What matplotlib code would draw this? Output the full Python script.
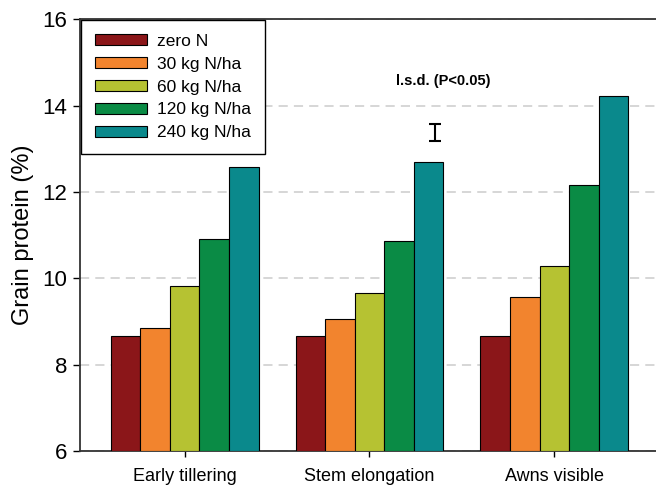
import numpy as np
import matplotlib.pyplot as plt

plt.rcParams['font.family'] = ['Liberation Sans', 'DejaVu Sans']

stages = ["Early tillering", "Stem elongation", "Awns visible"]
rates = ["zero N", "30 kg N/ha", "60 kg N/ha", "120 kg N/ha", "240 kg N/ha"]
protein = [
    [8.67, 8.67, 8.67],
    [8.85, 9.07, 9.56],
    [9.83, 9.66, 10.29],
    [10.91, 10.87, 12.16],
    [12.58, 12.70, 14.22],
]
colors = ["#8b1619", "#f2842e", "#b6c232", "#0a8b45", "#0a898c"]
lsd = 0.39

fig = plt.figure(figsize=(6.56, 4.93), dpi=100)
ax = fig.add_axes([0.122, 0.085, 0.878, 0.876])

x = np.arange(len(stages))
w = 0.16
for i, (lab, vals) in enumerate(zip(rates, protein)):
    ax.bar(x + (i - 2) * w, np.array(vals) - 6, w, bottom=6, color=colors[i],
           edgecolor="black", linewidth=0.8, label=lab, zorder=3)

ax.set_ylim(6, 16)
ax.set_xlim(-0.566, 2.55)
ax.set_yticks([6, 8, 10, 12, 14, 16])
ax.set_xticks(x)
ax.set_xticklabels(stages, fontsize=13)
ax.tick_params(axis="y", labelsize=16, direction="out", length=5, width=1, pad=4)
ax.tick_params(axis="x", direction="out", length=4, width=1, pad=8)
ax.set_ylabel("Grain protein (%)", fontsize=17, labelpad=6)
ax.grid(axis="y", linestyle=(0, (6, 4)), color="#cccccc", linewidth=1.1, zorder=0)

for s in ["left", "bottom", "top"]:
    ax.spines[s].set_color("#333333")
    ax.spines[s].set_linewidth(1.3)
ax.spines["right"].set_visible(False)

# l.s.d. bar
ax.errorbar(1.357, 13.38, yerr=lsd / 2, fmt="none", ecolor="black",
            elinewidth=1.5, capsize=4, capthick=1.5, zorder=4)
ax.text(1.40, 14.58, "l.s.d. (P<0.05)", ha="center", va="center",
        fontsize=10.5, fontweight="bold")

leg = ax.legend(loc="upper left", fontsize=12.5, frameon=True, fancybox=False,
                edgecolor="black", handlelength=3.0, handleheight=0.6,
                borderpad=0.8, labelspacing=0.45, handletextpad=0.6,
                borderaxespad=0.05)
leg.get_frame().set_linewidth(1.0)
leg.get_frame().set_alpha(1)
leg.set_zorder(5)

fig.savefig("out.png", dpi=100)
